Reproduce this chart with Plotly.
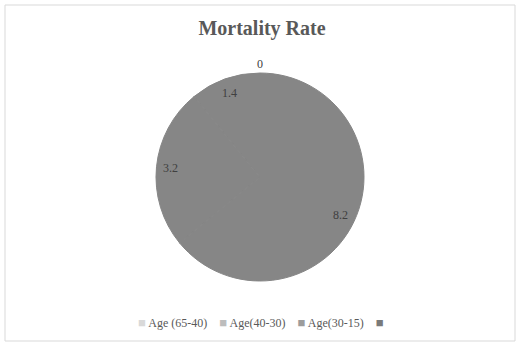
import math
import plotly.graph_objects as go

# Mortality rate by age group
categories = ["Age (65-40)", "Age(40-30)", "Age(30-15)", ""]
values = [0, 1.4, 3.2, 8.2]
legend_colors = ["#d9d9d9", "#bdbdbd", "#9c9c9c", "#7a7a7a"]
pie_color = "#868686"

W, H = 524, 347
# pie placement in pixels
cx, cy, R = 260, 177, 104

fig = go.Figure()

fig.add_trace(go.Pie(
    labels=categories,
    values=values,
    sort=False,
    direction="counterclockwise",
    rotation=0,
    marker=dict(colors=[pie_color] * len(values), line=dict(width=1, color=pie_color)),
    textinfo="none",
    showlegend=False,
    domain=dict(x=[(cx - R) / W, (cx + R) / W], y=[1 - (cy + R) / H, 1 - (cy - R) / H]),
    hoverinfo="label+value",
))

# value labels placed along each slice's mid-angle (counterclockwise from 12 o'clock)
total = sum(values)
start = 0.0
for v in values:
    span = v / total * 360.0
    mid = math.radians(start + span / 2)
    r = 0.86 * R if v > 0 else 1.09 * R
    px = cx - r * math.sin(mid)
    py = cy - r * math.cos(mid)
    fig.add_annotation(
        x=px / W, y=1 - py / H, xref="paper", yref="paper",
        text=f"{v:g}", showarrow=False, xanchor="center", yanchor="middle",
        font=dict(family="Liberation Serif", size=12, color="#404040"),
    )
    start += span

# legend row: coloured square followed by the category name
gap = "\u00a0" * 4
items = []
for name, col in zip(categories, legend_colors):
    items.append(f"<span style='color:{col};font-size:13px'>\u25a0</span>\u2009{name}")
fig.add_annotation(
    x=0.5, y=1 - 322 / H, xref="paper", yref="paper",
    text=gap.join(items), showarrow=False, xanchor="center", yanchor="middle",
    font=dict(family="Liberation Serif", size=12, color="#595959"),
)

fig.update_layout(
    width=W, height=H,
    margin=dict(l=0, r=0, t=0, b=0),
    paper_bgcolor="white", plot_bgcolor="white",
    title=dict(text="<b>Mortality Rate</b>", x=0.5, xanchor="center",
               y=1 - 28 / H, yanchor="middle",
               font=dict(family="Liberation Serif", size=20, color="#595959")),
    shapes=[dict(type="rect", xref="paper", yref="paper",
                 x0=5 / W, x1=515 / W, y0=1 - 341 / H, y1=1 - 5 / H,
                 line=dict(color="#d9d9d9", width=1), fillcolor="rgba(0,0,0,0)")],
)

fig.write_html("out.html")
